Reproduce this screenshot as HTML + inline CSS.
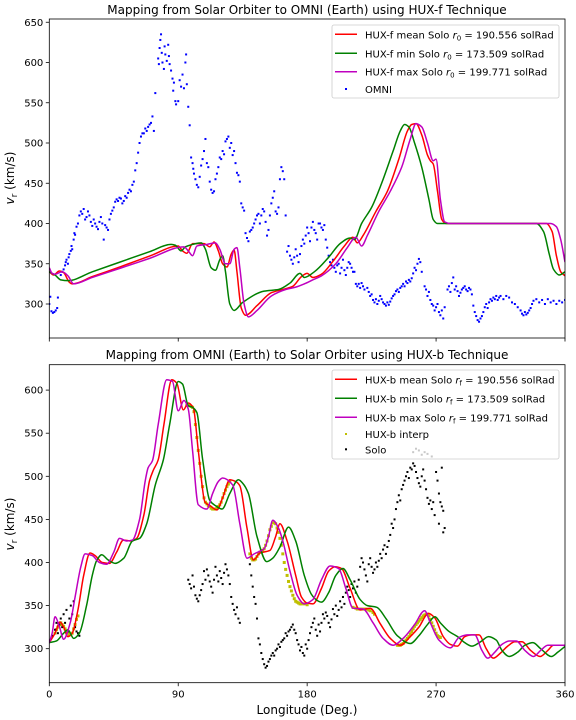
<!DOCTYPE html>
<html><head><meta charset="utf-8"><style>
html,body{margin:0;padding:0;background:#fff;}
svg{display:block;font-family:"DejaVu Sans","Liberation Sans",sans-serif;}
</style></head><body>
<svg id="chart" width="576" height="720" viewBox="0 0 576 720">
<defs>
<clipPath id="clipTop"><rect x="49.3" y="19" width="515.7" height="319"/></clipPath>
<clipPath id="clipBot"><rect x="49.3" y="364.7" width="515.7" height="318"/></clipPath>
</defs>
<text x="307" y="14" text-anchor="middle" font-size="12">Mapping from Solar Orbiter to OMNI (Earth) using HUX-f Technique</text>
<text x="307" y="359" text-anchor="middle" font-size="12">Mapping from OMNI (Earth) to Solar Orbiter using HUX-b Technique</text>
<text x="307" y="714" text-anchor="middle" font-size="12">Longitude (Deg.)</text>
<text transform="translate(14,178) rotate(-90)" text-anchor="middle" font-size="12"><tspan font-style="italic">v</tspan><tspan font-size="9" dy="3">r</tspan><tspan dy="-3"> (km/s)</tspan></text>
<text transform="translate(14,524) rotate(-90)" text-anchor="middle" font-size="12"><tspan font-style="italic">v</tspan><tspan font-size="9" dy="3">r</tspan><tspan dy="-3"> (km/s)</tspan></text>
<g id="topG"></g>
<g id="botG"></g>
</svg>
<script>
const xTicks=[0,90,180,270,360];
const topYTicks=[300,350,400,450,500,550,600,650];
const botYTicks=[300,350,400,450,500,550,600];
const topMean=[[0,340],[3,336],[7,341],[10,339],[14,327],[16,325],[30,334],[50,346.5],[70,359.5],[90,372],[93,366],[96,363],[100,375],[108,375],[112,371],[115,377],[118,366],[121,350],[124,346],[127,362],[129,367],[131,340],[134,295],[137,286],[145,298],[155,314],[163,318],[170,322],[176,334],[180,338],[184,333],[190,337],[198,353],[206,372],[212,383],[215,376],[219,385],[228,415],[236,440],[244,480],[250,515],[253,523],[256,524],[260,510],[264,485],[266,478],[268,474],[271,440],[274,405],[277,400],[347,400],[351,390],[354,360],[357,340],[360,335]];
const topMin=[[0,340],[4,336],[8,330],[13,329],[30,340],[50,352.5],[70,365],[85,374],[88,373],[92,366],[95,371],[100,374],[106,376],[109,368],[113,345],[116,342],[119,355],[121,360],[123,340],[126,300],[129,292],[135,302],[150,316],[160,318],[168,326],[175,338],[178,333],[185,340],[195,358],[203,375],[210,382],[213,380],[218,400],[225,420],[232,450],[240,490],[245,515],[248,523],[251,520],[255,500],[260,470],[265,430],[268,405],[271,400],[340,400],[345,390],[349,362],[352,343],[356,336],[360,340]];
const topMax=[[0,345],[2,338],[4,337],[9,340],[13,335],[17,325],[30,333],[50,344.7],[70,356.7],[94,371],[97,366],[100,360],[103,372],[110,374],[116,376],[119,368],[123,350],[126,350],[129,368],[131,370],[133,345],[136,300],[139,284],[145,292],[155,310],[165,318],[172,321],[178,325],[184,330],[190,335],[200,350],[208,370],[214,383],[218,372],[222,385],[230,415],[238,440],[246,470],[252,505],[256,524],[260,520],[264,500],[268,478],[270,480],[273,430],[276,402],[280,400],[350,400],[354,396],[357,380],[360,352]];
const omni=[[0,300],[0.7,309],[1.5,291],[2.5,289],[3.5,290],[4.5,292],[5.5,295],[6,308],[8,336],[9,340],[10,343],[11,348],[11.5,352],[12,355],[13,350],[13.5,358],[14,362],[15,366],[15.5,372],[16,368],[17,380],[17.5,388],[18,386],[19,396],[20,400],[21,410],[22,415],[23,412],[24,418],[25,405],[26,408],[27,415],[28,410],[29,402],[30,397],[31,405],[32,400],[33,396],[34,393],[35,402],[36,408],[37,400],[38,380],[39,398],[40,395],[41,392],[42,405],[43,412],[44,416],[45,420],[46,427],[47,430],[48,428],[49,432],[50,431],[51,425],[52,428],[53,434],[54,432],[55,438],[56,442],[57,440],[58,448],[59,452],[60,466],[61,475],[62,488],[63,500],[64,508],[65,512],[66,512],[67,518],[68,515],[69,520],[70,523],[71,525],[72,533],[73,515],[74,562],[76,605],[76.5,598],[77,618],[77.5,628],[78,635],[78.5,612],[79,600],[80,592],[80.5,620],[81,610],[82,602],[83,622],[83.5,608],[84,598],[85,590],[86,580],[86.5,565],[87,575],[88,552],[88.5,548],[90,552],[91,578],[92,570],[93,585],[94,568],[95,600],[95.5,610],[96,573],[97,545],[98,522],[99,482],[100,475],[100.5,468],[101,462],[102,455],[103,448],[104,445],[105,458],[106,472],[107,480],[108,490],[109,505],[110,475],[111,470],[112,452],[113,442],[114,438],[115,440],[116,455],[117,462],[118,470],[119,482],[120,480],[121,490],[122,486],[123,502],[124,505],[125,508],[126,494],[127,500],[128,485],[129,490],[130,475],[131,463],[132,460],[133,452],[134,425],[135,420],[136,416],[137,388],[138,382],[139,378],[140,390],[141,392],[142,395],[143,400],[144,405],[145,410],[146,412],[147,400],[148,410],[149,418],[150,415],[151,402],[152,385],[153,392],[154,410],[155,425],[156,432],[157,440],[158,415],[159,412],[160,420],[161,455],[162,470],[163,465],[164,455],[165,410],[166,365],[167,372],[168,360],[169,355],[170,350],[171,358],[172,368],[173,360],[174,352],[175,362],[176,372],[177,380],[178,375],[179,385],[180,395],[181,388],[182,378],[183,395],[184,402],[185,392],[186,388],[187,380],[188,400],[189,400],[190,395],[191,392],[192,398],[193,380],[194,370],[195,360],[196,352],[197,348],[198,355],[199,345],[200,340],[201,348],[202,350],[203,338],[204,345],[205,355],[206,342],[207,336],[208,345],[209,352],[210,350],[211,345],[212,340],[213,340],[214,325],[215,322],[216,325],[217,320],[218,326],[219,322],[220,318],[222,320],[223,315],[224,310],[225,312],[226,305],[227,302],[228,306],[229,300],[230,304],[231,310],[232,306],[233,302],[234,300],[235,298],[236,302],[237,299],[238,303],[239,307],[240,310],[241,312],[242,316],[243,318],[244,315],[245,320],[246,322],[247,325],[248,322],[249,328],[250,326],[251,330],[252,328],[253,332],[254,338],[255,345],[256,342],[257,350],[258,356],[259,352],[260,340],[262,322],[263,318],[264,310],[265,315],[266,305],[267,300],[268,298],[269,292],[270,296],[271,300],[272,290],[273,286],[274,292],[275,282],[276,296],[278,318],[279,322],[280,315],[281,326],[282,333],[283,318],[284,322],[285,316],[286,310],[287,314],[288,318],[289,320],[290,322],[291,318],[292,316],[293,320],[294,318],[295,312],[296,298],[297,290],[298,285],[299,280],[300,278],[301,282],[302,285],[303,290],[304,296],[305,300],[306,295],[307,302],[308,306],[309,304],[310,308],[311,306],[312,310],[313,305],[314,308],[315,310],[317,306],[319,310],[321,308],[323,302],[325,300],[327,296],[329,292],[330,288],[331,286],[332,290],[333,287],[334,289],[335,292],[336,295],[337,300],[338,304],[340,306],[342,302],[344,305],[346,300],[348,306],[350,302],[352,304],[354,300],[356,304],[358,302],[360,305]];
const botMean=[[0,307],[4,318],[7.5,331],[10,325],[13,314],[16,318],[20,345],[24,385],[28.4,411],[32,408],[37,400],[42,399],[47,412],[51.7,426],[57,425],[61,428],[66,455],[70,495],[72.6,507],[76,519],[80,560],[85.5,612],[89,608],[93.6,577],[97,585],[100.6,579],[104,530],[108.7,470],[113,465],[117,461],[121,475],[126,496],[130,494],[133,489],[138,440],[142.5,403],[147,411],[154,414],[158,430],[161,445],[166,425],[172,385],[176,360],[180,353],[184,352],[190,370],[195,390],[199.5,395],[204,393],[210,370],[216.9,345],[224,347],[231,329],[238,312],[245,304],[252,314],[258,325],[264.7,341],[269,336],[275,314],[280,305],[285,303],[290,314],[295,316],[300,316],[305,300],[310,289],[315,295],[320,303],[325,308],[330,308],[336,298],[342.7,291],[348,298],[352,304],[360,304]];
const botMin=[[0,307],[5,309],[10,318],[13,322],[17,312],[21,318],[26,350],[30,385],[33,402],[36.6,409],[41,403],[46,399],[52,405],[58,425],[63,428],[68,445],[74,490],[79.6,519],[84,560],[90,610],[93,607],[97,582],[100,580],[103,574],[107,520],[112,472],[116,466],[120.6,462],[126,480],[132,496],[135,492],[139,480],[145,430],[151.8,401],[156,405],[161,418],[167,441],[172,425],[178,385],[183,363],[187,356],[190,354],[195,365],[200,385],[205,393],[210,380],[217,357],[222,350],[228.6,348],[235,335],[243,315],[252,306],[258,315],[264,328],[269.3,337],[273,330],[279,320],[285,314],[290,307],[295,303],[301,308],[306.7,314],[312,310],[316,298],[321,291],[327,296],[332,304],[337.6,307],[343,300],[350.5,291],[355,296],[361,304]];
const botMax=[[0,307],[2,318],[4,337],[7,326],[10,311],[14.6,330],[18,360],[22,395],[25,410],[30,408],[35,400],[40,398],[45,412],[49,428],[54,425],[58,426],[63,450],[67,495],[69,510],[72,518],[76,560],[82,612],[86,610],[90,576],[94,588],[97,578],[100,530],[104,467],[110,462],[114,480],[118,494],[121,498],[128,490],[133,445],[138,405],[143,410],[150,416],[153,430],[156,449],[160,440],[163,425],[168,390],[173,362],[178,352],[184,357],[190,380],[196,396],[202,393],[207,370],[212,347],[219,346],[226,330],[233,312],[240,304],[247,312],[255,328],[262,344],[266,330],[272,310],[280,301],[286,313],[292,316],[297,316],[302,298],[306,289],[311,296],[316,305],[321,309],[326,309],[332,298],[338,291],[343,298],[348,304],[360,304]];
const interp=[[4,318],[5,322],[6,325],[7,328],[8,330],[9,328],[10,326],[11,323],[12,320],[13,318],[14,316],[15,317],[16,318],[17,323],[18,328],[19,334],[20,338],[96,582],[97,583],[98,582],[99,581],[100,580],[101,575],[102,560],[103,545],[104,530],[105,515],[106,500],[107,488],[108,475],[109,470],[110,468],[111,466],[112,465],[113,463],[114,462],[115,462],[116,462],[117,463],[118,465],[119,467],[120,470],[121,475],[122,480],[123,484],[124,488],[125,491],[126,494],[140,410],[141,405],[142,403],[143,403],[144,404],[145,407],[146,410],[147,412],[148,413],[149,414],[150,416],[151,420],[152,425],[153,431],[154,438],[155,442],[156,446],[157,446],[158,445],[159,440],[160,435],[161,428],[162,420],[163,410],[164,400],[165,392],[166,385],[167,378],[168,372],[169,367],[170,362],[171,358],[172,355],[173,354],[174,353],[175,352],[176,352],[178,352],[180,351],[212,348],[214,347],[215,346],[217,346],[218,346],[220,346],[221,346],[223,345],[224,344],[226,342],[227,340],[243,304],[244,304],[245,304],[246,305],[247,306],[248,308],[249,310],[250,312],[251,314],[252,317],[253,320],[254,323],[255,326],[256,328],[257,330],[258,332],[259,334],[260,336],[261,338],[262,339],[263,340],[264,340],[265,338],[266,334],[267,330],[268,326],[269,322],[270,318],[271,315],[272,314],[273,313]];
const solo=[[2,315],[4,322],[5,330],[6,318],[7,328],[8,335],[9,325],[10,340],[11,330],[12,345],[13,320],[14,335],[15,350],[16,340],[17,355],[18,325],[19,320],[20,318],[21,315],[97,380],[98,375],[99,370],[100,385],[101,372],[102,362],[103,358],[104,355],[105,362],[106,368],[107,375],[108,390],[109,380],[110,392],[111,385],[112,378],[113,372],[114,365],[115,380],[116,395],[117,385],[118,378],[119,390],[120,382],[121,375],[122,388],[123,398],[124,392],[125,385],[126,375],[127,360],[128,352],[129,345],[130,340],[131,348],[132,335],[133,330],[140,398],[141,385],[142,372],[143,360],[144,352],[145,335],[146,312],[147,305],[148,295],[149,288],[150,282],[151,278],[152,280],[153,285],[154,288],[155,292],[156,295],[157,292],[158,298],[159,300],[160,305],[161,302],[162,308],[163,310],[164,312],[165,318],[166,315],[167,320],[168,322],[169,325],[170,328],[171,322],[172,318],[173,310],[174,305],[175,298],[176,302],[177,295],[178,292],[179,305],[180,300],[181,310],[182,318],[183,325],[184,330],[185,335],[186,322],[187,315],[188,328],[189,320],[190,330],[191,340],[192,335],[193,342],[194,338],[195,330],[196,325],[197,334],[198,346],[199,340],[200,350],[201,338],[202,345],[203,355],[204,348],[205,360],[206,352],[207,365],[208,372],[209,368],[210,360],[211,375],[212,370],[213,378],[214,365],[215,372],[216,380],[217,395],[218,405],[219,400],[220,392],[221,385],[222,378],[223,398],[224,405],[225,395],[226,388],[227,392],[228,400],[229,395],[230,402],[231,410],[232,405],[233,415],[234,420],[235,410],[236,418],[237,425],[238,432],[239,445],[240,440],[241,450],[242,462],[243,470],[244,478],[245,472],[246,485],[247,490],[248,495],[249,500],[250,505],[251,498],[252,510],[253,508],[254,515],[255,512],[256,505],[257,498],[258,492],[259,488],[260,500],[261,508],[262,495],[263,485],[264,475],[265,468],[266,472],[267,462],[268,470],[269,455],[270,505],[271,495],[272,480],[273,470],[274,510],[275,460],[276,440],[274,465],[272,445],[275,435]];
const soloGrey=[[254,528],[256,532],[258,530],[260,525],[262,528],[264,526],[267,523]];

const NS='http://www.w3.org/2000/svg';
const X0=49.3,X1=565;
function xs(l){return X0+(l/360)*(X1-X0);}
function ysTop(v){return 304-(v-300)*0.805;}
function ysBot(v){return 648.7-(v-300)*0.862;}
function mk(tag,attrs,parent){const e=document.createElementNS(NS,tag);for(const k in attrs)e.setAttribute(k,attrs[k]);parent.appendChild(e);return e;}
function smoothPath(pts,ys){
  const p=pts.map(d=>[xs(d[0]),ys(d[1])]);
  const n=p.length,dk=[],m=[];
  for(let i=0;i<n-1;i++){const dx=p[i+1][0]-p[i][0];dk.push(dx>0?(p[i+1][1]-p[i][1])/dx:0);}
  for(let i=0;i<n;i++){
    if(i===0)m.push(dk[0]);else if(i===n-1)m.push(dk[n-2]);
    else{const a=dk[i-1],b=dk[i];m.push(a*b<=0?0:2*a*b/(a+b));}
  }
  let s='M'+p[0][0].toFixed(2)+','+p[0][1].toFixed(2);
  for(let i=0;i<n-1;i++){
    const h=(p[i+1][0]-p[i][0])/3;
    s+='C'+(p[i][0]+h).toFixed(2)+','+(p[i][1]+m[i]*h).toFixed(2)+' '+(p[i+1][0]-h).toFixed(2)+','+(p[i+1][1]-m[i+1]*h).toFixed(2)+' '+p[i+1][0].toFixed(2)+','+p[i+1][1].toFixed(2);
  }
  return s;
}
function axes(g,yTop,yBot,ys,yTicks,labelX,prefix){
  xTicks.forEach(t=>{
    const tk=mk('line',{x1:xs(t),x2:xs(t),y1:yBot,y2:yBot+3.5,stroke:'#000','stroke-width':0.8},g);
    
    
    if(labelX){
      const tl=mk('text',{x:xs(t),y:yBot+15,'text-anchor':'middle','font-size':10},g);
      tl.textContent=t;
      
      
    }
  });
  yTicks.forEach(t=>{
    const tk=mk('line',{x1:X0-3.5,x2:X0,y1:ys(t),y2:ys(t),stroke:'#000','stroke-width':0.8},g);
    
    
    const tl=mk('text',{x:X0-6,y:ys(t)+3.5,'text-anchor':'end','font-size':10},g);
    tl.textContent=t;
    
    
  });
}
function frame(g,yTop,yBot,prefix){
  const r=mk('rect',{x:X0,y:yTop,width:X1-X0,height:yBot-yTop,fill:'none',stroke:'#000','stroke-width':0.8},g);
  
  
}
function line(g,data,ys,color,clip,name){
  const p=mk('path',{d:smoothPath(data,ys),fill:'none',stroke:color,'stroke-width':1.5,'clip-path':clip},g);
  
  
}
function scatter(g,data,ys,color,clip,name,sz){
  const grp=mk('g',{'clip-path':clip},g);
  
  
  data.forEach(d=>{
    const c=mk('rect',{x:xs(d[0])-sz/2,y:ys(d[1])-sz/2,width:sz,height:sz,fill:color},grp);
    
    
  });
}
function legend(g,x,y,w,h,rows,prefix){
  const b=mk('rect',{x:x,y:y,width:w,height:h,rx:2,fill:'#fff','fill-opacity':0.8,stroke:'#ccc','stroke-width':0.8},g);
  
  
  rows.forEach(r=>{
    const eg=mk('g',{},g);
    
    
    if(r.type==='line'){mk('line',{x1:x+3,x2:x+25,y1:r.y,y2:r.y,stroke:r.color,'stroke-width':1.5},eg);}
    else{mk('rect',{x:x+13,y:r.y-1,width:2,height:2,fill:r.color},eg);}
    const t=mk('text',{x:x+33,y:r.y+4,'font-size':10},eg);
    t.innerHTML=r.html;
  });
}
const topG=document.getElementById('topG'),botG=document.getElementById('botG');
scatter(topG,omni,ysTop,'#0000ff','url(#clipTop)','omni-scatter',2);
line(topG,topMean,ysTop,'#ff0000','url(#clipTop)','hux-f-mean-line');
line(topG,topMin,ysTop,'#008000','url(#clipTop)','hux-f-min-line');
line(topG,topMax,ysTop,'#bf00bf','url(#clipTop)','hux-f-max-line');
frame(topG,19,338,'top');
axes(topG,19,338,ysTop,topYTicks,false,'top');
legend(topG,332,25,227,73,[
 {type:'line',color:'#ff0000',y:34.3,html:'HUX-f mean Solo <tspan font-style="italic">r</tspan><tspan font-size="7" dy="2">0</tspan><tspan dy="-2"> = 190.556 solRad</tspan>'},
 {type:'line',color:'#008000',y:53.3,html:'HUX-f min Solo <tspan font-style="italic">r</tspan><tspan font-size="7" dy="2">0</tspan><tspan dy="-2"> = 173.509 solRad</tspan>'},
 {type:'line',color:'#bf00bf',y:71.7,html:'HUX-f max Solo <tspan font-style="italic">r</tspan><tspan font-size="7" dy="2">0</tspan><tspan dy="-2"> = 199.771 solRad</tspan>'},
 {type:'pt',color:'#0000ff',y:89,html:'OMNI'}],'top');
scatter(botG,interp,ysBot,'#bfbf00','url(#clipBot)','hux-b-interp-scatter',3);
scatter(botG,solo,ysBot,'#000000','url(#clipBot)','solo-scatter',2);
line(botG,botMean,ysBot,'#ff0000','url(#clipBot)','hux-b-mean-line');
line(botG,botMin,ysBot,'#008000','url(#clipBot)','hux-b-min-line');
line(botG,botMax,ysBot,'#bf00bf','url(#clipBot)','hux-b-max-line');
frame(botG,364.7,682.7,'bottom');
axes(botG,364.7,682.7,ysBot,botYTicks,true,'bottom');
legend(botG,332,370,227,89,[
 {type:'line',color:'#ff0000',y:379.3,html:'HUX-b mean Solo <tspan font-style="italic">r</tspan><tspan font-size="7" dy="2">f</tspan><tspan dy="-2"> = 190.556 solRad</tspan>'},
 {type:'line',color:'#008000',y:398.3,html:'HUX-b min Solo <tspan font-style="italic">r</tspan><tspan font-size="7" dy="2">f</tspan><tspan dy="-2"> = 173.509 solRad</tspan>'},
 {type:'line',color:'#bf00bf',y:417.3,html:'HUX-b max Solo <tspan font-style="italic">r</tspan><tspan font-size="7" dy="2">f</tspan><tspan dy="-2"> = 199.771 solRad</tspan>'},
 {type:'pt',color:'#bfbf00',y:434,html:'HUX-b interp'},
 {type:'pt',color:'#000000',y:449.3,html:'Solo'}],'bottom');
scatter(botG,soloGrey,ysBot,'#c8c8c8','url(#clipBot)','solo-behind-legend',2);
</script>
</body></html>
